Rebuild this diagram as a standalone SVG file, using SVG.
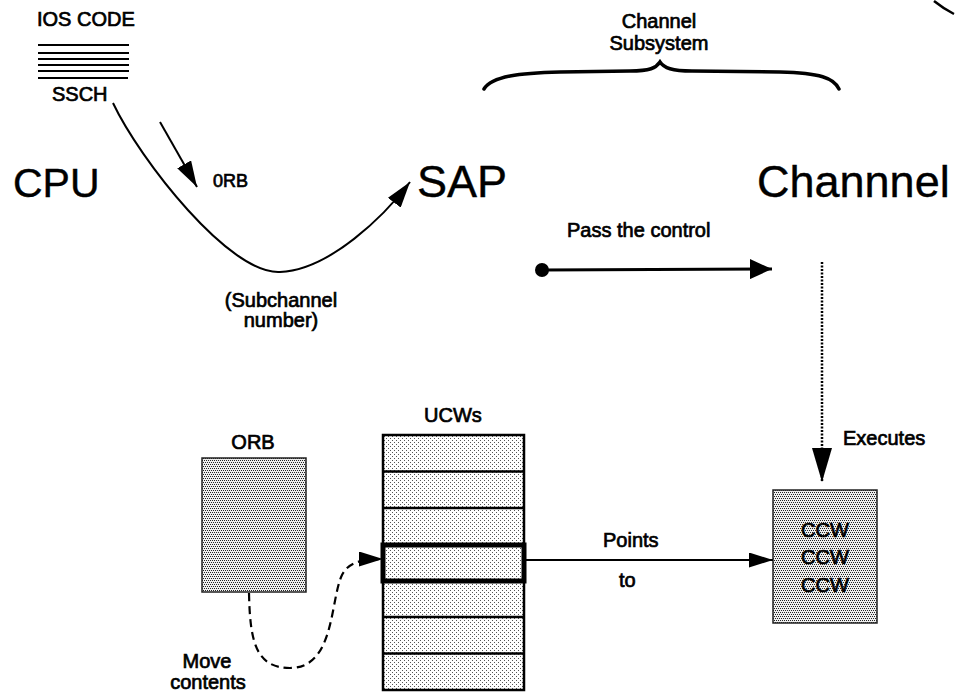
<svg xmlns="http://www.w3.org/2000/svg" width="956" height="694" viewBox="0 0 956 694">
<style>
  text { font-family: "Liberation Sans", Arial, sans-serif; fill: #000; stroke: #000; stroke-width: 0.7; }
  .t20 { font-size: 20px; }
  .big { font-size: 45px; stroke-width: 0.4; }
  .mid { text-anchor: middle; }
  .line { stroke: #000; fill: none; }
  .box { stroke: #222; stroke-width: 1.5; }
</style>
<defs>
  <pattern id="dense" patternUnits="userSpaceOnUse" width="4" height="4">
    <rect width="4" height="4" fill="#eee"/>
    <rect x="0" y="0" width="1" height="1" fill="#222"/>
    <rect x="2" y="0" width="1" height="1" fill="#222"/>
    <rect x="1" y="2" width="1" height="1" fill="#222"/>
    <rect x="3" y="2" width="1" height="1" fill="#222"/>
  </pattern>
  <pattern id="sparse" patternUnits="userSpaceOnUse" width="4" height="4">
    <rect width="4" height="4" fill="#fff"/>
    <rect x="0" y="0" width="1" height="1" fill="#555"/>
    <rect x="2" y="2" width="1" height="1" fill="#555"/>
  </pattern>
  <marker id="headA" markerUnits="userSpaceOnUse" markerWidth="26" markerHeight="16" refX="26" refY="8" orient="auto">
    <path d="M0,0 L26,8 L0,16 z" fill="#000"/>
  </marker>
  <marker id="headB" markerUnits="userSpaceOnUse" markerWidth="24" markerHeight="15" refX="24" refY="7.5" orient="auto">
    <path d="M0,0 L24,7.5 L0,15 z" fill="#000"/>
  </marker>
  <marker id="headPass" markerUnits="userSpaceOnUse" markerWidth="22" markerHeight="20" refX="22" refY="10" orient="auto">
    <path d="M0,0 L22,10 L0,20 z" fill="#000"/>
  </marker>
  <marker id="headExec" markerUnits="userSpaceOnUse" markerWidth="34" markerHeight="20" refX="34" refY="10" orient="auto">
    <path d="M0,0 L34,10 L0,20 z" fill="#000"/>
  </marker>
</defs>

<rect width="956" height="694" fill="#fff"/>

<g id="ios-code">
  <text class="t20" x="37" y="26">IOS CODE</text>
  <g class="line" stroke-width="2">
    <line x1="38" y1="45" x2="129" y2="45"/>
    <line x1="38" y1="53" x2="129" y2="53"/>
    <line x1="38" y1="59" x2="129" y2="59"/>
    <line x1="38" y1="65" x2="129" y2="65"/>
    <line x1="38" y1="71" x2="129" y2="71"/>
    <line x1="38" y1="78" x2="128" y2="78"/>
  </g>
  <text class="t20" x="52" y="101">SSCH</text>
</g>

<g id="cpu"><text class="big" x="13" y="197" style="font-size:41px">CPU</text></g>
<g id="sap"><text class="big" x="417" y="197">SAP</text></g>
<g id="channel"><text class="big" x="757" y="197">Channnel</text></g>

<g id="channel-subsystem">
  <text class="t20 mid" x="659" y="28">Channel</text>
  <text class="t20 mid" x="659" y="50">Subsystem</text>
  <path class="line" stroke-width="3.5" stroke-linecap="round" d="M484 89 C492 76 520 73 560 72 L630 71 C650 71 656 68 660 62 C664 68 672 71 692 71 L780 72 C820 73 834 78 839 89"/>
</g>

<path id="corner-mark" class="line" stroke-width="2.5" d="M934 1 Q944 9 954 14"/>

<g id="orb">
  <text class="t20 mid" x="253" y="449">ORB</text>
  <rect class="box" x="202" y="458" width="104" height="134" fill="url(#dense)"/>
</g>

<g id="ucws">
  <text class="t20 mid" x="453" y="422">UCWs</text>
  <rect x="383" y="435" width="141" height="255" fill="url(#sparse)" stroke="#000" stroke-width="2.5"/>
  <g class="line" stroke-width="2.5">
    <line x1="383" y1="471.4" x2="524" y2="471.4"/>
    <line x1="383" y1="507.9" x2="524" y2="507.9"/>
    <line x1="383" y1="617.1" x2="524" y2="617.1"/>
    <line x1="383" y1="653.6" x2="524" y2="653.6"/>
  </g>
  <rect x="383" y="545" width="141" height="36" fill="none" stroke="#000" stroke-width="5"/>
</g>

<g id="ccw">
  <rect class="box" x="773" y="490" width="104" height="133" fill="url(#dense)"/>
  <text class="t20 mid" x="825" y="537">CCW</text>
  <text class="t20 mid" x="825" y="564">CCW</text>
  <text class="t20 mid" x="825" y="592">CCW</text>
</g>

<g id="connectors">
  <path class="line" stroke-width="2" d="M113 103 C140 160 230 275 280 272 C330 270 385 215 410 182" marker-end="url(#headA)"/>
  <line class="line" stroke-width="2" x1="160" y1="122" x2="197" y2="187" marker-end="url(#headA)"/>
  <circle cx="542" cy="270" r="7" fill="#000"/>
  <line class="line" stroke-width="3" x1="542" y1="270" x2="772" y2="269" marker-end="url(#headPass)"/>
  <line class="line" stroke-width="2.5" stroke-dasharray="2,1.5" x1="822" y1="262" x2="822" y2="482" marker-end="url(#headExec)"/>
  <line class="line" stroke-width="2" x1="526" y1="560" x2="773" y2="560" marker-end="url(#headB)"/>
  <path class="line" stroke-width="2.2" stroke-dasharray="8,5" d="M249 593 C250 640 255 668 290 668 C335 668 330 600 342 575 C348 563 360 559 383 559" marker-end="url(#headB)"/>
</g>

<g id="labels">
  <text x="213" y="187" style="font-size:18px">0RB</text>
  <text class="t20 mid" x="281" y="307">(Subchannel</text>
  <text class="t20 mid" x="281" y="327">number)</text>
  <text class="t20" x="567" y="237">Pass the control</text>
  <text class="t20" x="843" y="445">Executes</text>
  <text class="t20" x="603" y="547">Points</text>
  <text class="t20" x="619" y="587">to</text>
  <text class="t20 mid" x="207" y="668">Move</text>
  <text class="t20 mid" x="208" y="689">contents</text>
</g>
</svg>
